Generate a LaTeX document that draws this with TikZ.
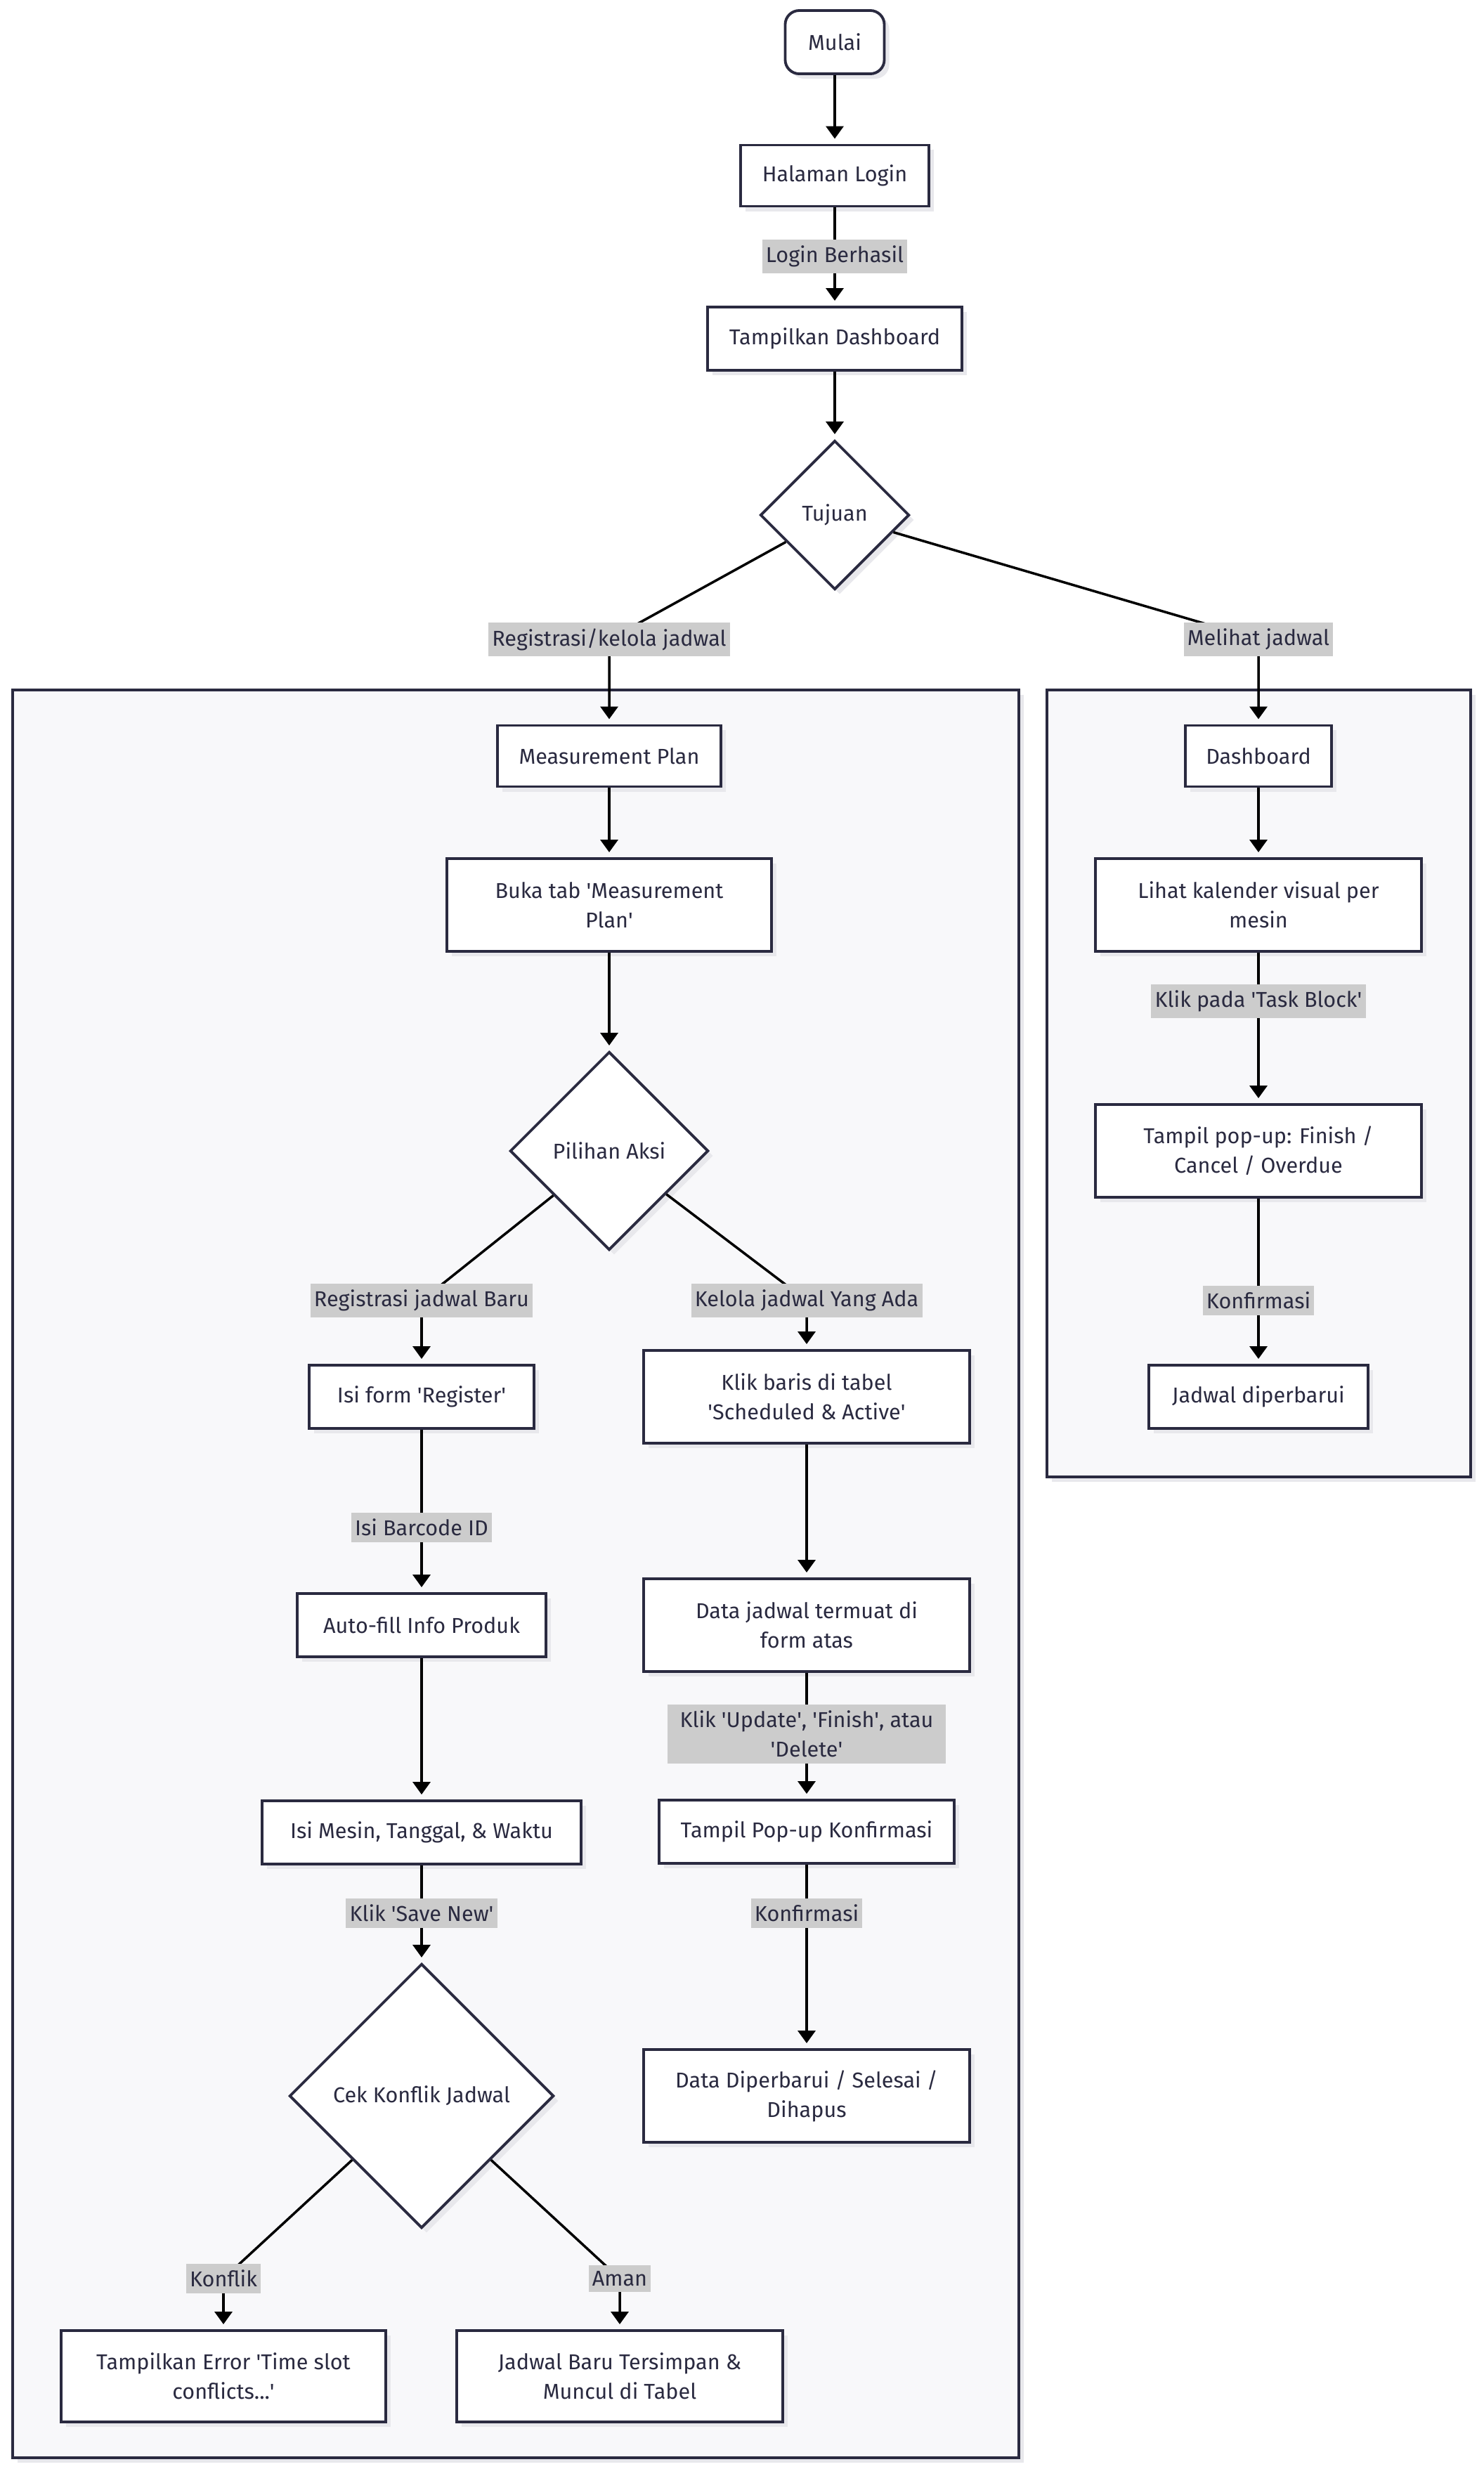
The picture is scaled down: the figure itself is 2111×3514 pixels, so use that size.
\documentclass[tikz,border=0pt]{standalone}
\usepackage{fontspec}
\setmainfont{Fira Sans}
\usetikzlibrary{arrows.meta, shapes.geometric, shadows}
\definecolor{ink}{HTML}{2A2A40}
\definecolor{labelbg}{HTML}{CCCCCC}
\definecolor{groupbg}{HTML}{F8F8FA}
\definecolor{shade}{HTML}{E8E8EC}
\newcommand{\squote}{\textquotesingle}

\begin{document}
\begin{tikzpicture}[x=0.01cm, y=-0.01cm, font=\fontsize{8.7}{12}\selectfont, text=ink,
  box/.style={draw=ink, line width=1.1pt, fill=white, align=center, inner sep=0pt,
    drop shadow={shadow xshift=0.07cm, shadow yshift=-0.07cm, fill=shade, opacity=1}},
  roundbox/.style={box, rounded corners=0.2cm},
  decision/.style={box, diamond, aspect=1, minimum size=#1},
  group/.style={draw=ink, line width=1.1pt, fill=groupbg,
    drop shadow={shadow xshift=0.07cm, shadow yshift=-0.07cm, fill=shade, opacity=1}},
  lbl/.style={fill=labelbg, inner xsep=1.5pt, inner ysep=2.4pt, align=center},
  edge/.style={line width=1pt, black, -{Triangle[length=0.18cm, width=0.25cm]}, shorten >=2pt}]
  \useasboundingbox (0,0) rectangle (2111,3514);

  % subgraph frames
  \path[group] (18,982) rectangle (1450,3498);
  \path[group] (1490,982) rectangle (2093,2102);

  % main line
  \node[roundbox, minimum width=1.41cm, minimum height=0.9cm] (start) at (1188,60) {Mulai};
  \node[box, minimum width=2.67cm, minimum height=0.87cm] (login) at (1188,250) {Halaman Login};
  \node[box, minimum width=3.61cm, minimum height=0.9cm] (dash) at (1188,482) {Tampilkan Dashboard};
  \node[decision=2.12cm] (tuj) at (1188,733) {Tujuan};

  % registrasi / kelola
  \node[box, minimum width=3.18cm, minimum height=0.87cm] (mp) at (867,1076) {Measurement Plan};
  \node[box, minimum width=4.62cm, minimum height=1.32cm] (buka) at (867,1288) {Buka tab \squote Measurement\\Plan\squote};
  \node[decision=2.82cm] (aksi) at (867,1638) {Pilihan Aksi};
  \node[box, minimum width=3.2cm, minimum height=0.9cm] (form) at (600,1988) {Isi form \squote Register\squote};
  \node[box, minimum width=3.54cm, minimum height=0.9cm] (auto) at (600,2313) {Auto-fill Info Produk};
  \node[box, minimum width=4.53cm, minimum height=0.9cm] (mesin) at (600,2608) {Isi Mesin, Tanggal, \& Waktu};
  \node[decision=3.76cm] (cek) at (600,2983) {Cek Konflik Jadwal};
  \node[box, minimum width=4.62cm, minimum height=1.3cm] (err) at (318,3382) {Tampilkan Error \squote Time slot\\conflicts...\squote};
  \node[box, minimum width=4.64cm, minimum height=1.3cm] (simpan) at (882,3382) {Jadwal Baru Tersimpan \&\\Muncul di Tabel};
  \node[box, minimum width=4.64cm, minimum height=1.32cm] (baris) at (1148,1988) {Klik baris di tabel\\\squote Scheduled \& Active\squote};
  \node[box, minimum width=4.64cm, minimum height=1.32cm] (muat) at (1148,2313) {Data jadwal termuat di\\form atas};
  \node[box, minimum width=4.19cm, minimum height=0.9cm] (popk) at (1148,2607) {Tampil Pop-up Konfirmasi};
  \node[box, minimum width=4.64cm, minimum height=1.32cm] (hasil) at (1148,2983) {Data Diperbarui / Selesai /\\Dihapus};

  % melihat jadwal
  \node[box, minimum width=2.08cm, minimum height=0.87cm] (rdash) at (1791,1076) {Dashboard};
  \node[box, minimum width=4.64cm, minimum height=1.32cm] (kal) at (1791,1288) {Lihat kalender visual per\\mesin};
  \node[box, minimum width=4.64cm, minimum height=1.32cm] (tpop) at (1791,1638) {Tampil pop-up: Finish /\\Cancel / Overdue};
  \node[box, minimum width=3.12cm, minimum height=0.9cm] (jdp) at (1791,1988) {Jadwal diperbarui};

  % label points
  \coordinate (cLogin) at (1188,365);
  \coordinate (cReg) at (867,910);
  \coordinate (cLihat) at (1791,910);
  \coordinate (cBaru) at (600,1851);
  \coordinate (cAda) at (1148,1851);
  \coordinate (cBarcode) at (600,2174);
  \coordinate (cSave) at (600,2723);
  \coordinate (cKonflik) at (318,3243);
  \coordinate (cAman) at (882,3243);
  \coordinate (cUpdate) at (1148,2468);
  \coordinate (cKonf) at (1148,2723);
  \coordinate (cTask) at (1791,1425);
  \coordinate (cKonfR) at (1791,1851);

  % connectors
  \draw[edge] (start) -- (login);
  \draw[edge] (login) -- (dash);
  \draw[edge] (dash) -- (tuj);
  \draw[edge] (tuj) -- (cReg) -- (mp);
  \draw[edge] (tuj) -- (cLihat) -- (rdash);
  \draw[edge] (mp) -- (buka);
  \draw[edge] (buka) -- (aksi);
  \draw[edge] (aksi) -- (cBaru) -- (form);
  \draw[edge] (aksi) -- (cAda) -- (baris);
  \draw[edge] (form) -- (auto);
  \draw[edge] (auto) -- (mesin);
  \draw[edge] (mesin) -- (cek);
  \draw[edge] (cek) -- (cKonflik) -- (err);
  \draw[edge] (cek) -- (cAman) -- (simpan);
  \draw[edge] (baris) -- (muat);
  \draw[edge] (muat) -- (popk);
  \draw[edge] (popk) -- (hasil);
  \draw[edge] (rdash) -- (kal);
  \draw[edge] (kal) -- (tpop);
  \draw[edge] (tpop) -- (jdp);

  % connector labels
  \node[lbl] (lLogin) at (cLogin) {Login Berhasil};
  \node[lbl] (lReg) at (cReg) {Registrasi/kelola jadwal};
  \node[lbl] (lLihat) at (cLihat) {Melihat jadwal};
  \node[lbl] (lBaru) at (cBaru) {Registrasi jadwal Baru};
  \node[lbl] (lAda) at (cAda) {Kelola jadwal Yang Ada};
  \node[lbl] (lBarcode) at (cBarcode) {Isi Barcode ID};
  \node[lbl] (lSave) at (cSave) {Klik \squote Save New\squote};
  \node[lbl] (lKonflik) at (cKonflik) {Konflik};
  \node[lbl] (lAman) at (cAman) {Aman};
  \node[lbl, inner xsep=5pt] (lUpdate) at (cUpdate) {Klik \squote Update\squote, \squote Finish\squote, atau\\\squote Delete\squote};
  \node[lbl] (lKonf) at (cKonf) {Konfirmasi};
  \node[lbl] (lTask) at (cTask) {Klik pada \squote Task Block\squote};
  \node[lbl] (lKonfR) at (cKonfR) {Konfirmasi};
\end{tikzpicture}
\end{document}
